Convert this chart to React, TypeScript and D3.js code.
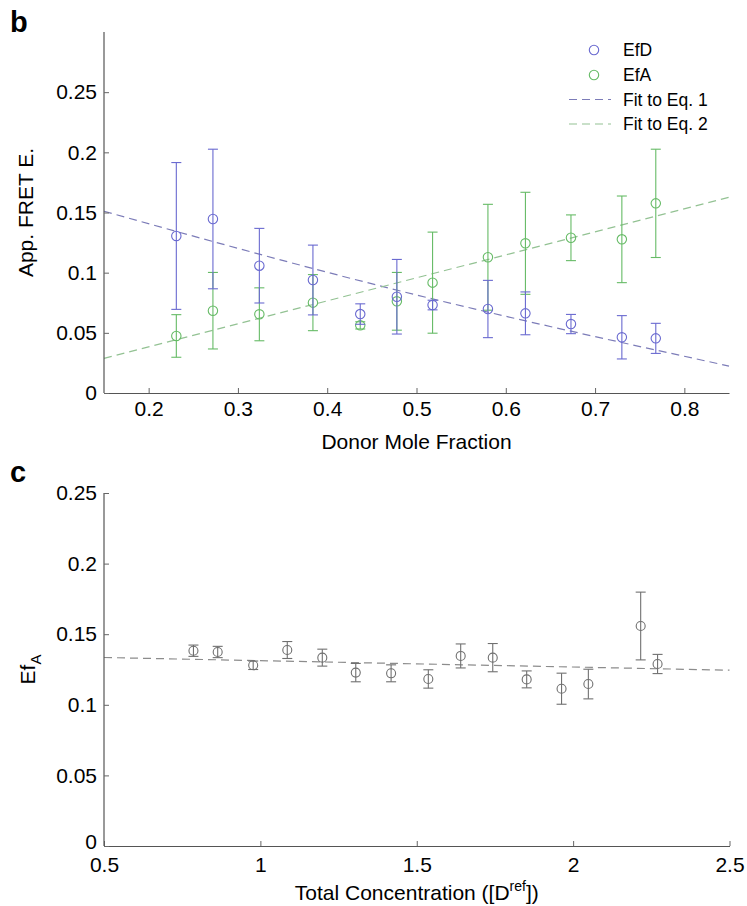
import React, { useEffect, useRef } from "react";
import * as d3 from "d3";

// panel b: apparent FRET efficiency vs donor mole fraction
const donorFraction = [0.231, 0.272, 0.324, 0.384, 0.437, 0.478, 0.518, 0.58, 0.622, 0.673, 0.73, 0.768];
const efD = [0.1305, 0.1446, 0.1058, 0.0939, 0.0656, 0.08, 0.0731, 0.0698, 0.0662, 0.0573, 0.0463, 0.0454];
const efDErr = [0.061, 0.058, 0.031, 0.029, 0.0085, 0.031, 0.004, 0.0238, 0.0178, 0.008, 0.018, 0.0125];
const efA = [0.0474, 0.0684, 0.0654, 0.0751, 0.0562, 0.0762, 0.0917, 0.1128, 0.1244, 0.129, 0.1277, 0.1576];
const efAErr = [0.0177, 0.0318, 0.022, 0.0233, 0.003, 0.024, 0.042, 0.044, 0.0424, 0.019, 0.036, 0.045];
const fit1X = [0.15, 0.47, 0.85];
const fit1Y = [0.151, 0.087, 0.0224];
const fit2X = [0.15, 0.85];
const fit2Y = [0.0288, 0.1626];
const bXTicks = [0.2, 0.3, 0.4, 0.5, 0.6, 0.7, 0.8];
const bYTicks = [0, 0.05, 0.1, 0.15, 0.2, 0.25];
const legendLabels = ["EfD", "EfA", "Fit to Eq. 1", "Fit to Eq. 2"];

// panel c: EfA vs total concentration
const totalConc = [0.786, 0.8635, 0.977, 1.086, 1.198, 1.305, 1.418, 1.537, 1.6405, 1.743, 1.8515, 1.963, 2.0487, 2.216, 2.27];
const efAConc = [0.1383, 0.1374, 0.128, 0.1388, 0.1334, 0.1228, 0.1223, 0.1183, 0.1346, 0.1334, 0.118, 0.1114, 0.1147, 0.1558, 0.1289];
const efAConcErr = [0.004, 0.004, 0.003, 0.006, 0.006, 0.0065, 0.006, 0.0065, 0.0085, 0.01, 0.006, 0.011, 0.0105, 0.024, 0.0068];
const fit3X = [0.5, 2.5];
const fit3Y = [0.1335, 0.1245];
const cXTicks = [0.5, 1, 1.5, 2, 2.5];
const cYTicks = [0, 0.05, 0.1, 0.15, 0.2, 0.25];

const W = 747;
const H = 906;
const FONT = '"Liberation Sans", Arial, Helvetica, sans-serif';
const BLUE = "#6a6ad0";
const BLUE_FIT = "#7c7cb8";
const GREEN = "#66bb66";
const GREEN_FIT = "#93c293";
const GRAY = "#707070";
const GRAY_FIT = "#8c8c8c";

const fmt = (d) => `${+(+d).toFixed(2)}`;

export default function App() {
  const svgRef = useRef<SVGSVGElement>(null);

  useEffect(() => {
    const svg = d3.select(svgRef.current);
    svg.selectAll("*").remove();

    const drawAxes = (x, y, xTicks, yTicks, yTop, xPad) => {
      const gx = svg
        .append("g")
        .attr("transform", `translate(0,${y(0)})`)
        .call(d3.axisBottom(x).tickValues(xTicks).tickFormat(fmt).tickSizeInner(-5).tickSizeOuter(0).tickPadding(xPad));
      const gy = svg
        .append("g")
        .attr("transform", `translate(${x.range()[0]},0)`)
        .call(d3.axisLeft(y).tickValues(yTicks).tickFormat(fmt).tickSizeInner(-5).tickSizeOuter(0).tickPadding(7));
      gy.select(".domain").attr("d", `M0,${yTop}V${y(0)}`);
      [gx, gy].forEach((g) => {
        g.select(".domain").attr("stroke", "#555").attr("stroke-width", 1.2);
        g.selectAll(".tick line").attr("stroke", "#666");
        g.selectAll(".tick text").attr("font-family", FONT).attr("font-size", 21).attr("fill", "#000");
      });
      return gy;
    };

    const drawSeries = (x, y, xs, vs, es, color, r) => {
      const g = svg.append("g").attr("fill", "none").attr("stroke", color).attr("stroke-width", 1.1);
      xs.forEach((xv, i) => {
        const cx = x(xv);
        const top = y(vs[i] + es[i]);
        const bot = y(vs[i] - es[i]);
        g.append("line").attr("x1", cx).attr("x2", cx).attr("y1", top).attr("y2", bot);
        g.append("line").attr("x1", cx - 5).attr("x2", cx + 5).attr("y1", top).attr("y2", top);
        g.append("line").attr("x1", cx - 5).attr("x2", cx + 5).attr("y1", bot).attr("y2", bot);
        g.append("circle").attr("cx", cx).attr("cy", y(vs[i])).attr("r", r);
      });
    };

    const drawFit = (x, y, xs, ys, color) => {
      const line = d3
        .line<number>()
        .x((d) => x(d))
        .y((_, i) => y(ys[i]))
        .curve(d3.curveMonotoneX);
      svg
        .append("path")
        .attr("d", line(xs))
        .attr("fill", "none")
        .attr("stroke", color)
        .attr("stroke-width", 1.2)
        .attr("stroke-dasharray", "8,5");
    };

    // ---- panel b
    const xb = d3.scaleLinear().domain([0.15, 0.85]).range([104, 729]);
    const yb = d3.scaleLinear().domain([0, 0.3]).range([393, 32]);
    drawFit(xb, yb, fit1X, fit1Y, BLUE_FIT);
    drawFit(xb, yb, fit2X, fit2Y, GREEN_FIT);
    drawSeries(xb, yb, donorFraction, efA, efAErr, GREEN, 4.7);
    drawSeries(xb, yb, donorFraction, efD, efDErr, BLUE, 4.7);
    drawAxes(xb, yb, bXTicks, bYTicks, 32, 8);

    // legend
    const leg = svg.append("g").attr("font-family", FONT).attr("font-size", 17.5);
    const rows = [50, 75, 99.5, 124];
    const legColors = [BLUE, GREEN, BLUE_FIT, GREEN_FIT];
    legendLabels.forEach((t, i) => {
      if (i < 2) {
        leg.append("circle").attr("cx", 594).attr("cy", rows[i]).attr("r", 4.7)
          .attr("fill", "none").attr("stroke", legColors[i]).attr("stroke-width", 1.1);
      } else {
        leg.append("line").attr("x1", 569).attr("x2", 611).attr("y1", rows[i]).attr("y2", rows[i])
          .attr("stroke", legColors[i]).attr("stroke-width", 1.2).attr("stroke-dasharray", "8,5");
      }
      leg.append("text").attr("x", 623).attr("y", rows[i]).attr("dy", "0.36em").text(t);
    });

    svg.append("text").attr("x", 416.5).attr("y", 449).attr("text-anchor", "middle")
      .attr("font-family", FONT).attr("font-size", 21).text("Donor Mole Fraction");
    svg.append("text").attr("transform", `translate(33,${(32 + 393) / 2}) rotate(-90)`)
      .attr("text-anchor", "middle").attr("font-family", FONT).attr("font-size", 21).text("App. FRET E.");
    svg.append("text").attr("x", 10).attr("y", 32).attr("font-family", FONT)
      .attr("font-weight", "bold").attr("font-size", 29).text("b");

    // ---- panel c
    const xc = d3.scaleLinear().domain([0.5, 2.5]).range([104, 729.5]);
    const yc = d3.scaleLinear().domain([0, 0.25]).range([846, 493]);
    drawFit(xc, yc, fit3X, fit3Y, GRAY_FIT);
    drawSeries(xc, yc, totalConc, efAConc, efAConcErr, GRAY, 4.5);
    const gyc = drawAxes(xc, yc, cXTicks, cYTicks, 493, 11);
    // lift the "0" label a little so it clears the "0.5" below it
    gyc.selectAll(".tick text").filter((d) => +d === 0).attr("dy", "0.1em");

    const xt = svg.append("text").attr("x", 416.8).attr("y", 900).attr("text-anchor", "middle")
      .attr("font-family", FONT).attr("font-size", 21);
    xt.append("tspan").text("Total Concentration ([D");
    xt.append("tspan").attr("font-size", 14).attr("dy", -9).text("ref");
    xt.append("tspan").attr("dy", 9).text("])");

    const yt = svg.append("text").attr("transform", `translate(35,${(493 + 846) / 2}) rotate(-90)`)
      .attr("text-anchor", "middle").attr("font-family", FONT).attr("font-size", 21);
    yt.append("tspan").text("Ef");
    yt.append("tspan").attr("font-size", 15).attr("dy", 6).text("A");

    svg.append("text").attr("x", 10).attr("y", 482).attr("font-family", FONT)
      .attr("font-weight", "bold").attr("font-size", 29).text("c");
  }, []);

  return (
    <svg
      ref={svgRef}
      width={W}
      height={H}
      style={{ position: "absolute", left: 0, top: 0, background: "#fff" }}
    />
  );
}
